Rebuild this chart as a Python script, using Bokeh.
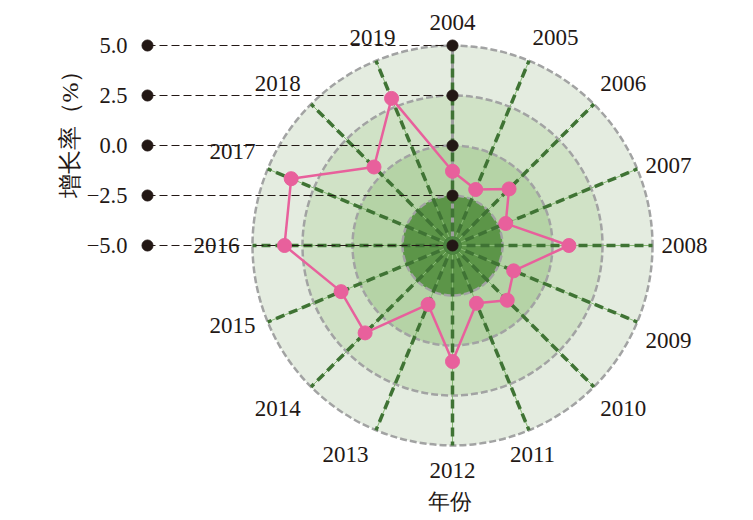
import numpy as np
from bokeh.plotting import figure
from bokeh.models import Range1d, LinearAxis, FixedTicker, Label, Title, ColumnDataSource
from bokeh.embed import file_html
from bokeh.resources import INLINE
from bokeh.core.properties import value

# ---------------- data ----------------
years = ["2004", "2005", "2006", "2007", "2008", "2009", "2010", "2011",
         "2012", "2013", "2014", "2015", "2016", "2017", "2018", "2019"]
growth = [-1.29, -1.97, -1.00, -2.12, 0.82, -1.69, -1.13, -1.87,
          0.80, -1.81, 1.18, 1.03, 3.40, 3.73, 0.55, 2.96]
y_ticks = [-5.0, -2.5, 0.0, 2.5, 5.0]
y_tick_labels = ["\u22125.0", "\u22122.5", "0.0", "2.5", "5.0"]
ring_levels = [-2.5, 0.0, 2.5, 5.0]
y_title = "增长率（%）"
x_title = "年份"

# ---------------- geometry / style ----------------
R_MIN, R_MAX = -5.0, 5.0
PX = 20.0                     # pixels per unit of growth
W, H = 753, 520
LEFT = 140                    # left border (axis area)
CXP, CYP = 452, 245           # canvas position of the polar centre
FONT = "Liberation Serif"
INK = "#231815"


def rad(v):
    return (np.asarray(v, dtype=float) - R_MIN) * PX


x0 = LEFT - CXP
x1 = W - CXP
y1 = CYP
y0 = CYP - H

p = figure(width=W, height=H, x_range=Range1d(x0, x1), y_range=Range1d(y0, y1),
           x_axis_type=None, y_axis_type=None, output_backend="svg",
           toolbar_location=None, min_border_left=LEFT, min_border_right=0,
           min_border_top=0, min_border_bottom=0, outline_line_color=None,
           background_fill_color="white", border_fill_color="white")

# value axis mapped onto the radial scale
p.extra_y_ranges = {"val": Range1d(y0 / PX + R_MIN, y1 / PX + R_MIN)}
yax = LinearAxis(y_range_name="val", ticker=FixedTicker(ticks=y_ticks),
                 major_label_overrides=dict(zip(y_ticks, y_tick_labels)))
yax.axis_line_color = None
yax.major_tick_line_color = None
yax.minor_tick_line_color = None
yax.major_label_standoff = 7
yax.major_label_text_font = FONT
yax.major_label_text_font_size = "22.5px"
yax.major_label_text_color = INK
p.add_layout(yax, "left")
p.add_layout(Title(text=y_title, align="right", offset=58, standoff=2,
                   text_font=FONT, text_font_size="24px",
                   text_font_style="normal", text_color=INK), "left")

# rings (outer -> inner)
levels_desc = sorted(ring_levels, reverse=True)
ring_fill = ["#e4ece0", "#d0e2c6", "#b5d3a6", "#5c9548"]
n = len(levels_desc)
p.circle(x=[0] * n, y=[0] * n, radius=rad(levels_desc), fill_color=ring_fill,
         line_color=None)
p.circle(x=[0] * n, y=[0] * n, radius=rad(levels_desc), fill_color=None,
         line_color="#a2a3a3", line_width=2.5, line_dash="7 3")

# spokes
N = len(years)
theta = np.arange(N) * 2 * np.pi / N
sx, sy = np.sin(theta), np.cos(theta)
R = float(rad(R_MAX))
p.segment(x0=[0] * N, y0=[0] * N, x1=R * sx, y1=R * sy,
          line_color="#86b874", line_width=1)
p.segment(x0=[0], y0=[0], x1=[0], y1=[R], line_color="#9d9e9e", line_width=3)
p.segment(x0=[0] * N, y0=[0] * N, x1=R * sx, y1=R * sy,
          line_color="#3f7334", line_width=3.5, line_dash="9 5")

# value guide lines and dots
ax_x = 147 - CXP
ry = rad(y_ticks)
m = len(y_ticks)
p.segment(x0=[ax_x] * m, y0=ry, x1=[0] * m, y1=ry, line_color=INK,
          line_width=1.2, line_dash="8 4")
p.circle(x=[0], y=[0], radius=9, fill_color="#4c8540", line_color=None)
p.scatter(x=[ax_x] * m, y=ry, size=11, color=INK)
p.scatter(x=[0] * m, y=ry, size=11, color=INK)

# data polygon
rv = rad(growth)
vx, vy = rv * sx, rv * sy
p.line(x=list(vx) + [vx[0]], y=list(vy) + [vy[0]], line_color="#e8609c",
       line_width=2.5)
p.scatter(x=vx, y=vy, size=14, color="#e8609c")

# year labels
RL = R + 9
phi = theta + np.pi / N
aligns = ["left" if s > 0.3 else ("right" if s < -0.3 else "center") for s in np.sin(phi)]
bases = ["bottom" if c > 0.3 else ("top" if c < -0.3 else "middle") for c in np.cos(phi)]
lx = RL * sx + np.array([-4 if a == "right" else 0 for a in aligns])
ly = RL * sy + np.array([7 if b == "bottom" else (-8 if b == "top" else 0) for b in bases])
src = ColumnDataSource(dict(x=lx, y=ly, text=years, align=aligns, base=bases))
p.text(x="x", y="y", text="text", text_align="align", text_baseline="base",
       source=src, text_font=value(FONT), text_font_size="23px", text_color=INK)

# x title
p.add_layout(Label(x=449 - CXP, y=CYP - 501, text=x_title, text_align="center",
                   text_baseline="middle", text_font=FONT,
                   text_font_size="22px", text_color=INK))

open("out.html", "w").write(file_html(p, INLINE))
